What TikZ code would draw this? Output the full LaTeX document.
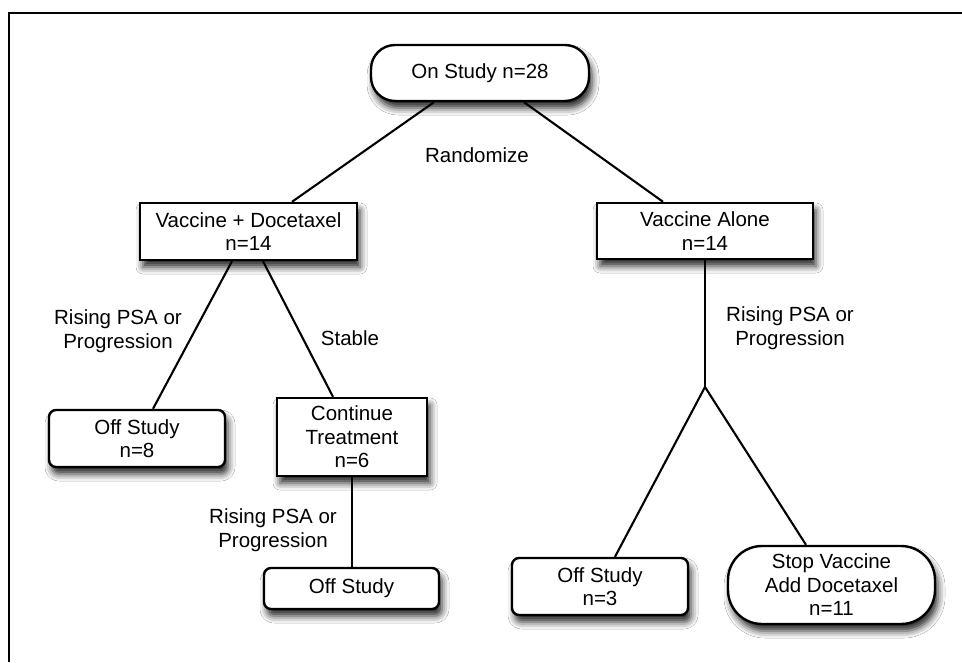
\documentclass[tikz,border=0pt]{standalone}
\usepackage{fontspec}
\setmainfont{Liberation Sans}
\usetikzlibrary{shadows.blur,calc}
\begin{document}
\begin{tikzpicture}[x=1pt,y=-1pt,
  every node/.style={font=\fontsize{20.5}{23.5}\selectfont, align=center, inner sep=0pt},
  box/.style={draw=black, line width=2.4pt, fill=white,
    blur shadow={shadow xshift=3pt, shadow yshift=-7pt, shadow blur radius=7pt, shadow opacity=85}},
  sqbox/.style={box},
  rbox/.style={box, rounded corners=7pt},
  pill/.style={box, rounded corners=24pt},
  conn/.style={draw=black, line width=2.1pt},
  lbl/.style={fill=none}]
\useasboundingbox (0,0) rectangle (962,662);
\fill[white] (0,0) rectangle (962,662);
\draw[line width=2pt] (9,662) -- (9,12.5) -- (962,12.5);

\node[pill, minimum width=218pt, minimum height=56pt] (on) at (480,73) {On Study n=28};
\node[sqbox, minimum width=217pt, minimum height=57pt] (vd) at (248.5,231.5) {Vaccine + Docetaxel\\n=14};
\node[sqbox, minimum width=216pt, minimum height=56pt] (va) at (705,231) {Vaccine Alone\\n=14};
\node[rbox, minimum width=176pt, minimum height=57pt] (off8) at (137,438.5) {Off Study\\n=8};
\node[sqbox, minimum width=150pt, minimum height=78pt] (cont) at (352,437) {Continue\\Treatment\\n=6};
\node[rbox, minimum width=175pt, minimum height=41pt] (offb) at (351.5,588.5) {Off Study};
\node[rbox, minimum width=176pt, minimum height=57pt] (off3) at (600,586.5) {Off Study\\n=3};
\node[box, rounded corners=34pt, minimum width=207pt, minimum height=78pt] (stop) at (831.5,585) {Stop Vaccine\\Add Docetaxel\\n=11};

\coordinate (junc) at (705,387);

\node[lbl] (rand) at (477,155) {Randomize};
\node[lbl] (lblL) at (118,331) {Rising PSA or\\Progression};
\node[lbl] (lblS) at (350,338) {Stable};
\node[lbl] (lblB) at (273,530) {Rising PSA or\\Progression};
\node[lbl] (lblR) at (790,328) {Rising PSA or\\Progression};

\draw[conn] ([xshift=-46pt]on.south) -- ([xshift=43.5pt]vd.north);
\draw[conn] ([xshift=44pt]on.south) -- ([xshift=-42pt]va.north);
\draw[conn] ([xshift=-16.5pt]vd.south) -- ([xshift=16pt]off8.north);
\draw[conn] ([xshift=14.5pt]vd.south) -- ([xshift=-19pt]cont.north);
\draw[conn] (cont.south) -- (cont.south |- offb.north);
\draw[conn] (va.south) -- (junc);
\draw[conn] (junc) -- ([xshift=15pt]off3.north);
\draw[conn] (junc) -- ([xshift=-25.5pt]stop.north);
\end{tikzpicture}
\end{document}
